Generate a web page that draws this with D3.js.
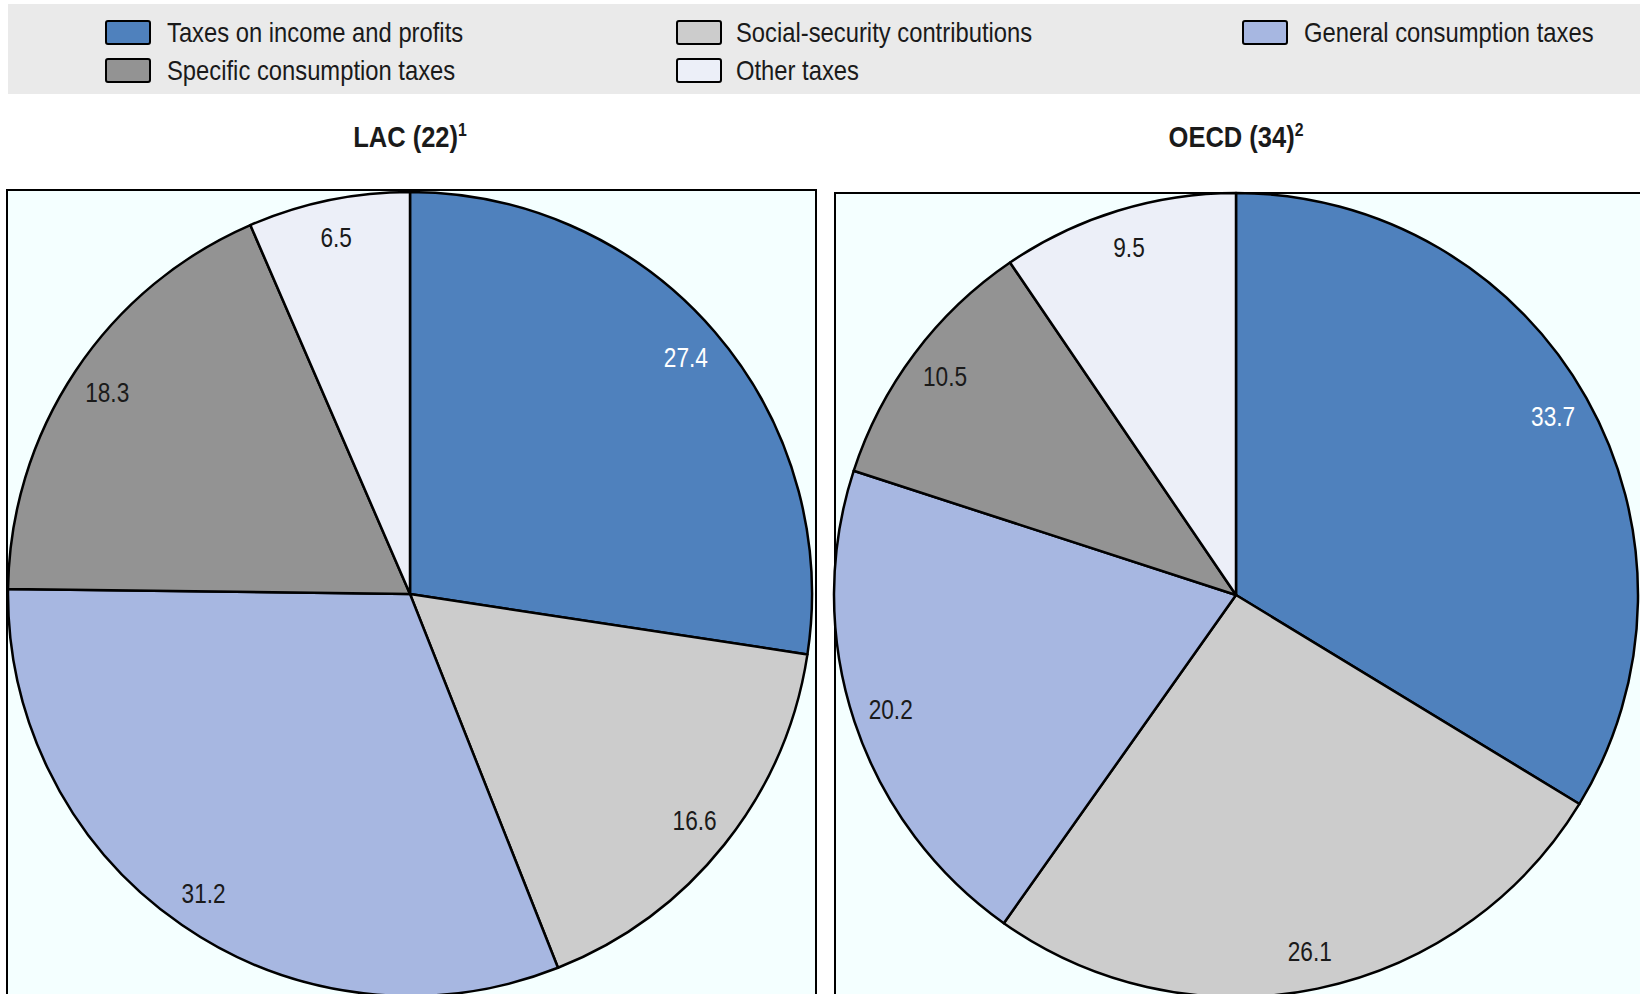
<!DOCTYPE html>
<html><head><meta charset="utf-8">
<script src="https://cdn.jsdelivr.net/npm/d3@7"></script>
<style>
html,body{margin:0;padding:0;background:#fff;}
svg{display:block;}
text{font-family:"Liberation Sans Narrow","Arial Narrow","Liberation Sans",Arial,sans-serif;}
</style></head>
<body>
<svg id="chart" width="1640" height="994"></svg>
<script>
const categories = ["Taxes on income and profits","Social-security contributions","General consumption taxes","Specific consumption taxes","Other taxes"];
const colors = ["#4F81BD","#CCCCCC","#A7B7E1","#939393","#ECEFF8"];
const labelColors = ["#ffffff","#1a1a1a","#1a1a1a","#1a1a1a","#1a1a1a"];
const lacValues = [27.4, 16.6, 31.2, 18.3, 6.5];
const oecdValues = [33.7, 26.1, 20.2, 10.5, 9.5];
const panelTitles = [{main:"LAC (22)", sup:"1"},{main:"OECD (34)", sup:"2"}];

const svg = d3.select("#chart");

// Legend
svg.append("rect").attr("x",8).attr("y",4).attr("width",1632).attr("height",90).attr("fill","#EAEAEA");
const legendPos = [
  {sx:106, tx:167, y:32},
  {sx:677, tx:736, y:32},
  {sx:1243, tx:1304, y:32},
  {sx:106, tx:167, y:70},
  {sx:677, tx:736, y:70}
];
categories.forEach((c,i)=>{
  const p = legendPos[i];
  svg.append("rect").attr("x",p.sx).attr("y",p.y-11).attr("width",44).attr("height",23)
    .attr("rx",2).attr("fill",colors[i]).attr("stroke","#000").attr("stroke-width",2);
  svg.append("text").attr("transform",`translate(${p.tx},${p.y}) scale(0.85,1)`).attr("dy","0.36em")
    .attr("font-size",28).attr("fill","#1a1a1a").text(c);
});

const panels = [
  {values: lacValues, cx:410, cy:594, bx:7, by:190, bw:809},
  {values: oecdValues, cx:1236, cy:595, bx:835, by:193, bw:806}
];
const R = 402;
const pie = d3.pie().sort(null).value(d=>d);
const arc = d3.arc().innerRadius(0).outerRadius(R);
const labelArc = d3.arc().innerRadius(R*0.905).outerRadius(R*0.905);

panels.forEach((p,k)=>{
  svg.append("rect").attr("x",p.bx).attr("y",p.by).attr("width",p.bw).attr("height",900)
    .attr("fill","#F4FFFF").attr("stroke","#000").attr("stroke-width",2);
  const t = svg.append("text").attr("transform",`translate(${p.cx},${147}) scale(0.88,1)`).attr("text-anchor","middle")
    .attr("font-size",29).attr("font-weight","bold").attr("fill","#1a1a1a");
  t.append("tspan").text(panelTitles[k].main);
  t.append("tspan").attr("font-size",18).attr("dy",-11).text(panelTitles[k].sup);
  const g = svg.append("g").attr("transform",`translate(${p.cx},${p.cy})`);
  const arcs = pie(p.values);
  g.selectAll("path").data(arcs).join("path")
    .attr("d",arc).attr("fill",(d,i)=>colors[i]).attr("stroke","#000").attr("stroke-width",2.5)
    .attr("stroke-linejoin","round");
  g.selectAll("text.lbl").data(arcs).join("text").attr("class","lbl")
    .attr("transform",d=>`translate(${labelArc.centroid(d)}) scale(0.84,1)`)
    .attr("text-anchor","middle").attr("dy","0.36em").attr("font-size",27)
    .attr("fill",(d,i)=>labelColors[i]).text(d=>d.data.toFixed(1));
});
</script>
</body></html>
